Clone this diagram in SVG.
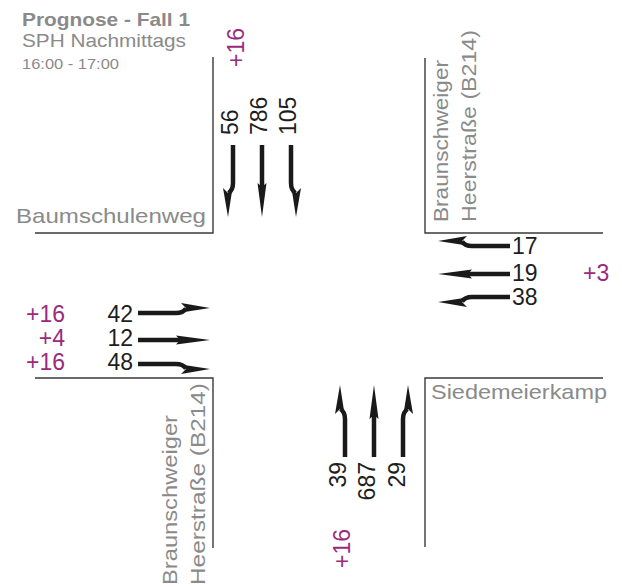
<svg xmlns="http://www.w3.org/2000/svg" width="622" height="587" viewBox="0 0 622 587">
<style>
text{font-family:"Liberation Sans",Arial,sans-serif}
.road{stroke:#3a3a3a;stroke-width:1.4;fill:none}
.lbl{fill:#8a8a8a;font-size:21px}
.ttl{fill:#8a8a8a}
.num{fill:#1e1e1e;font-size:23px}
.pk{fill:#9a2a7c;font-size:23px}
.shaft{stroke:#1a1a1a;stroke-width:4.5;fill:none;stroke-linecap:butt}
.head{fill:#1a1a1a}
</style>
<defs>
<g id="a-straight">
<path class="shaft" d="M0,0 H46"/>
<path class="head" d="M38,-4.5 L72,0 L38,4.5 L42,0 Z"/>
</g>
<g id="a-left">
<path class="shaft" d="M0,0 H38 Q45,0 48,-4.5"/>
<path class="head" d="M43,-10 L72,-5 L43,-0.5 L48,-5 Z"/>
</g>
<g id="a-right">
<use href="#a-left" transform="scale(1,-1)"/>
</g>
</defs>
<rect width="622" height="587" fill="#ffffff"/>

<g id="title">
<text class="ttl" x="22" y="26" font-size="19" font-weight="bold" textLength="168" lengthAdjust="spacingAndGlyphs">Prognose - Fall 1</text>
<text class="ttl" x="22" y="47" font-size="19" textLength="164" lengthAdjust="spacingAndGlyphs">SPH Nachmittags</text>
<text class="ttl" x="22" y="69" font-size="15" textLength="97" lengthAdjust="spacingAndGlyphs">16:00 - 17:00</text>
</g>

<g id="corner-nw">
<path class="road" d="M213,57 V233 H35"/>
<text class="lbl" x="16" y="223" textLength="190" lengthAdjust="spacingAndGlyphs">Baumschulenweg</text>
</g>

<g id="corner-ne">
<path class="road" d="M425,58 V233 H603"/>
<text class="lbl" transform="translate(448,222) rotate(-90)" textLength="162" lengthAdjust="spacingAndGlyphs">Braunschweiger</text>
<text class="lbl" transform="translate(476,222) rotate(-90)" textLength="192" lengthAdjust="spacingAndGlyphs">Heerstraße  (B214)</text>
</g>

<g id="corner-sw">
<path class="road" d="M35,378 H213 V548"/>
<text class="lbl" transform="translate(177,585) rotate(-90)" textLength="170" lengthAdjust="spacingAndGlyphs">Braunschweiger</text>
<text class="lbl" transform="translate(205,585) rotate(-90)" textLength="202" lengthAdjust="spacingAndGlyphs">Heerstraße  (B214)</text>
</g>

<g id="corner-se">
<path class="road" d="M425,547 V378 H603"/>
<text class="lbl" x="431" y="399" textLength="176" lengthAdjust="spacingAndGlyphs">Siedemeierkamp</text>
</g>

<g id="approach-north">
<text class="pk" transform="translate(244,67) rotate(-90)">+16</text>
<text class="num" transform="translate(238,135) rotate(-90)">56</text>
<text class="num" transform="translate(267,135) rotate(-90)">786</text>
<text class="num" transform="translate(296,135) rotate(-90)">105</text>
</g>

<g id="approach-east">
<text class="num" x="512" y="254">17</text>
<text class="num" x="512" y="281">19</text>
<text class="num" x="512" y="305">38</text>
<text class="pk" x="583" y="281">+3</text>
</g>

<g id="approach-west">
<text class="num" x="133" y="322" text-anchor="end">42</text>
<text class="num" x="133" y="346" text-anchor="end">12</text>
<text class="num" x="133" y="370" text-anchor="end">48</text>
<text class="pk" x="65" y="322" text-anchor="end">+16</text>
<text class="pk" x="65" y="346" text-anchor="end">+4</text>
<text class="pk" x="65" y="370" text-anchor="end">+16</text>
</g>

<g id="approach-south">
<text class="num" transform="translate(346,462) rotate(-90)" text-anchor="end">39</text>
<text class="num" transform="translate(375,462) rotate(-90)" text-anchor="end">687</text>
<text class="num" transform="translate(405,462) rotate(-90)" text-anchor="end">29</text>
<text class="pk" transform="translate(350,568) rotate(-90)">+16</text>
</g>

<g id="lane-arrows">
<use href="#a-right" transform="translate(233,145) rotate(90)"/>
<use href="#a-straight" transform="translate(262,145) rotate(90)"/>
<use href="#a-left" transform="translate(291,145) rotate(90)"/>
<use href="#a-right" transform="translate(510,246) rotate(180)"/>
<use href="#a-straight" transform="translate(510,274) rotate(180)"/>
<use href="#a-left" transform="translate(510,297) rotate(180)"/>
<use href="#a-left" transform="translate(138,313)"/>
<use href="#a-straight" transform="translate(138,340)"/>
<use href="#a-right" transform="translate(138,364)"/>
<use href="#a-left" transform="translate(345,457) rotate(-90)"/>
<use href="#a-straight" transform="translate(374,457) rotate(-90)"/>
<use href="#a-right" transform="translate(403,457) rotate(-90)"/>
</g>
</svg>
